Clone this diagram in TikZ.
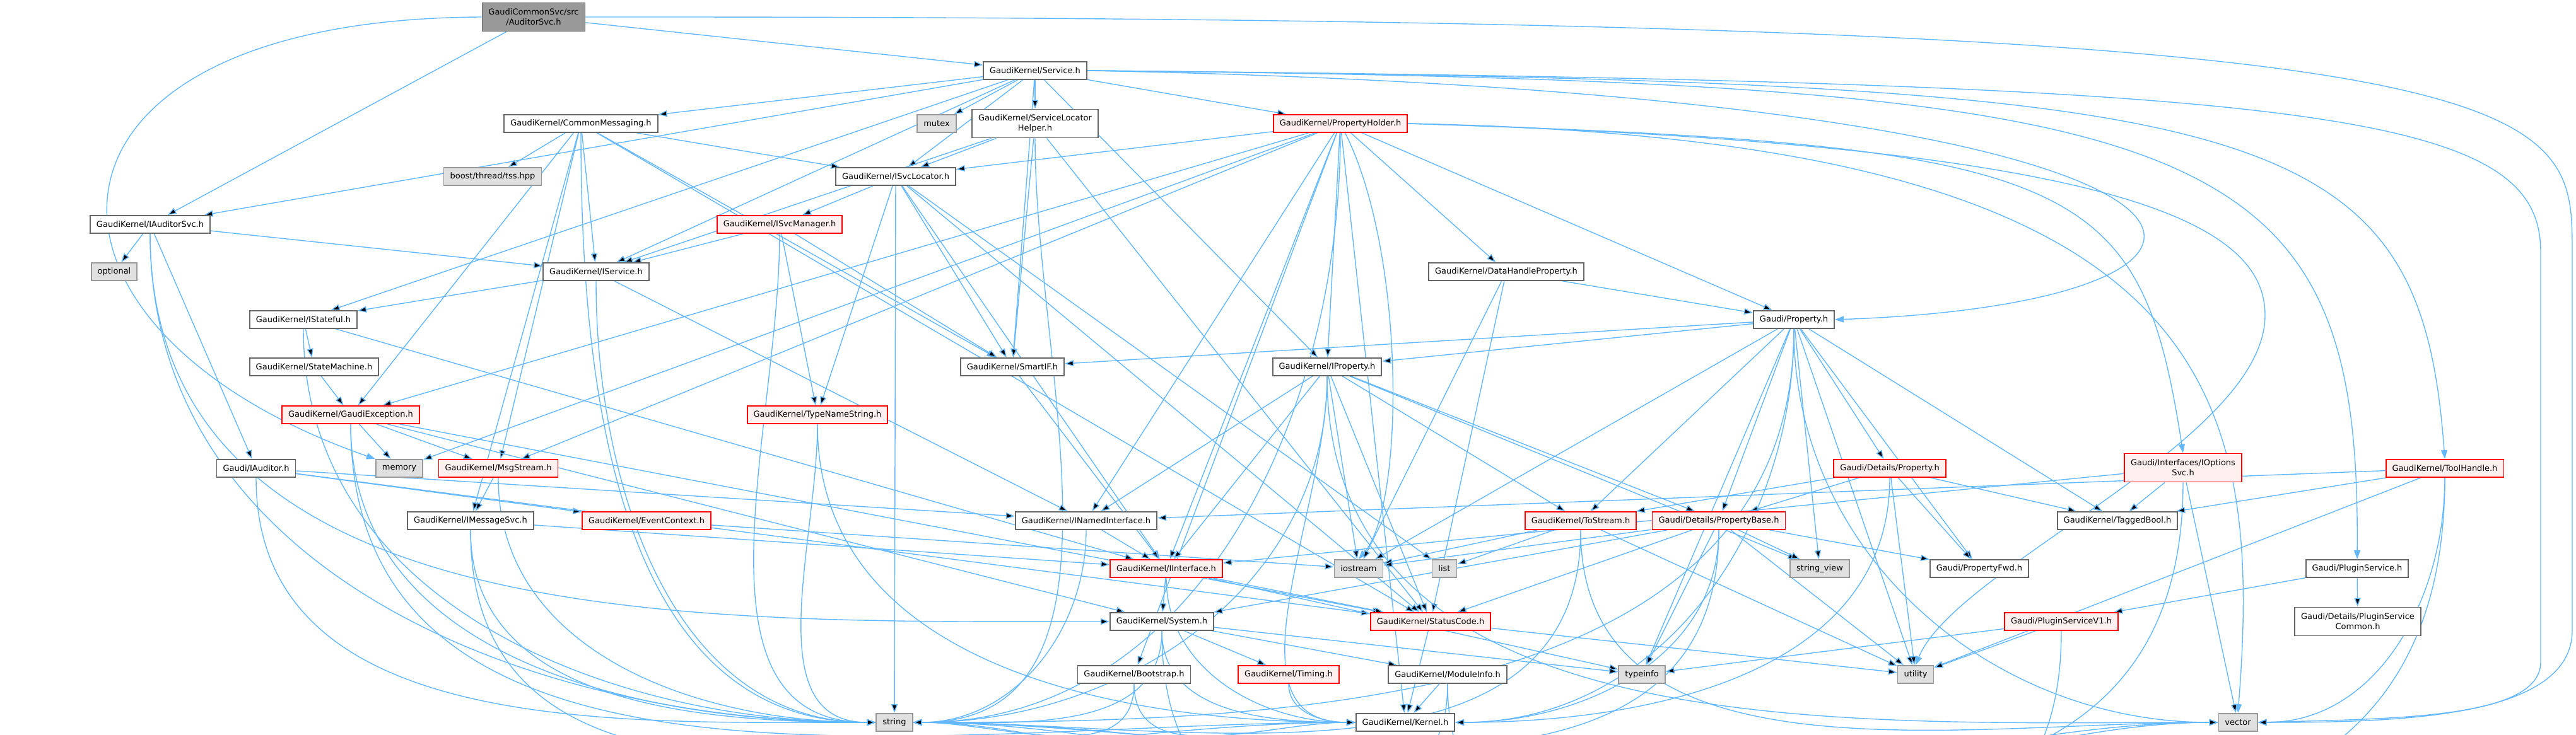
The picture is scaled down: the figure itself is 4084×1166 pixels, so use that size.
\documentclass[tikz,border=0pt]{standalone}
\usepackage{fontspec}
\setmainfont{DejaVu Sans}
\usetikzlibrary{arrows.meta}
\definecolor{incblue}{HTML}{63B8FF}
\definecolor{boxgrey}{HTML}{666666}
\definecolor{sysline}{HTML}{999999}
\definecolor{sysfill}{HTML}{E0E0E0}
\definecolor{redfill}{HTML}{FFF0F0}
\definecolor{rootfill}{HTML}{999999}
\pgfdeclarelayer{edges}
\pgfsetlayers{edges,main}
\tikzset{
  incarrow/.style={-{Triangle[length=3.5pt,width=2.5pt]}, draw=incblue, line width=0.35pt},
  filebox/.style={draw=boxgrey, fill=white, line width=0.45pt, minimum height=7pt, inner xsep=2.5pt, inner ysep=0.75pt, align=center},
  redbox/.style={filebox, draw=red},
  redbox/.append style={fill=redfill},
  sysbox/.style={filebox, draw=sysline, fill=sysfill},
  rootbox/.style={filebox, fill=rootfill},
  twoline/.style={minimum height=11.25pt},
  leftin/.style={out=-90, in=180},
  rightin/.style={out=-90, in=0}
}

\begin{document}
\begin{tikzpicture}[x=0.25pt, y=0.25pt, every node/.style={font={\fontsize{3.25}{4}\selectfont}}]
  \useasboundingbox (0,0) rectangle (4084,-1166);
  % rows from top to bottom
  \node[rootbox, twoline] (root) at (846,-27) {GaudiCommonSvc/src\\/AuditorSvc.h};
  \node[filebox] (service) at (1641,-112) {GaudiKernel/Service.h};
  \node[filebox] (commonmsg) at (921,-196) {GaudiKernel/CommonMessaging.h};
  \node[sysbox] (mutex) at (1485,-196) {mutex};
  \node[filebox, twoline] (svclochelper) at (1641,-196) {GaudiKernel/ServiceLocator\\Helper.h};
  \node[redbox] (propholder) at (2125,-196) {GaudiKernel/PropertyHolder.h};
  \node[sysbox] (boosttss) at (781,-280) {boost/thread/tss.hpp};
  \node[filebox] (isvclocator) at (1420,-280) {GaudiKernel/ISvcLocator.h};
  \node[filebox] (iauditorsvc) at (238,-356) {GaudiKernel/IAuditorSvc.h};
  \node[redbox] (isvcmanager) at (1236,-356) {GaudiKernel/ISvcManager.h};
  \node[sysbox] (optional) at (181,-431) {optional};
  \node[filebox] (iservice) at (945,-431) {GaudiKernel/IService.h};
  \node[filebox] (datahandleprop) at (2388,-431) {GaudiKernel/DataHandleProperty.h};
  \node[filebox] (istateful) at (481,-507) {GaudiKernel/IStateful.h};
  \node[filebox] (property) at (2844,-507) {Gaudi/Property.h};
  \node[filebox] (statemachine) at (498,-582) {GaudiKernel/StateMachine.h};
  \node[filebox] (smartif) at (1605,-582) {GaudiKernel/SmartIF.h};
  \node[filebox] (iproperty) at (2104,-582) {GaudiKernel/IProperty.h};
  \node[redbox] (gaudiexc) at (556,-658) {GaudiKernel/GaudiException.h};
  \node[redbox] (typenamestr) at (1296,-658) {GaudiKernel/TypeNameString.h};
  \node[filebox] (iauditor) at (406,-743) {Gaudi/IAuditor.h};
  \node[sysbox] (memory) at (633,-743) {memory};
  \node[redbox] (msgstream) at (790,-743) {GaudiKernel/MsgStream.h};
  \node[redbox] (detprop) at (2996,-743) {Gaudi/Details/Property.h};
  \node[redbox, twoline] (ioptionssvc) at (3461,-742) {Gaudi/Interfaces/IOptions\\Svc.h};
  \node[redbox] (toolhandle) at (3876,-743) {GaudiKernel/ToolHandle.h};
  \node[filebox] (imessagesvc) at (746,-826) {GaudiKernel/IMessageSvc.h};
  \node[redbox] (eventctx) at (1025,-826) {GaudiKernel/EventContext.h};
  \node[filebox] (inamedif) at (1722,-826) {GaudiKernel/INamedInterface.h};
  \node[redbox] (tostream) at (2506,-826) {GaudiKernel/ToStream.h};
  \node[redbox] (propbase) at (2725,-826) {Gaudi/Details/PropertyBase.h};
  \node[filebox] (taggedbool) at (3357,-826) {GaudiKernel/TaggedBool.h};
  \node[redbox] (iinterface) at (1849,-902) {GaudiKernel/IInterface.h};
  \node[sysbox] (iostream) at (2154,-902) {iostream};
  \node[sysbox] (list) at (2290,-902) {list};
  \node[sysbox] (stringview) at (2885,-902) {string\_view};
  \node[filebox] (propfwd) at (3138,-902) {Gaudi/PropertyFwd.h};
  \node[filebox] (pluginsvc) at (3737,-902) {Gaudi/PluginService.h};
  \node[filebox] (system) at (1842,-986) {GaudiKernel/System.h};
  \node[redbox] (statuscode) at (2268,-986) {GaudiKernel/StatusCode.h};
  \node[redbox] (pluginv1) at (3268,-986) {Gaudi/PluginServiceV1.h};
  \node[filebox, twoline] (plugincommon) at (3738,-986) {Gaudi/Details/PluginService\\Common.h};
  \node[filebox] (bootstrap) at (1798,-1070) {GaudiKernel/Bootstrap.h};
  \node[redbox] (timing) at (2043,-1070) {GaudiKernel/Timing.h};
  \node[filebox] (moduleinfo) at (2295,-1070) {GaudiKernel/ModuleInfo.h};
  \node[sysbox] (typeinfo) at (2603,-1070) {typeinfo};
  \node[sysbox] (utility) at (3037,-1070) {utility};
  \node[sysbox] (string) at (1418,-1146) {string};
  \node[filebox] (kernel) at (2228,-1146) {GaudiKernel/Kernel.h};
  \node[sysbox] (vector) at (3548,-1146) {vector};

  \begin{pgfonlayer}{edges}
  % long routes round the outside
  \draw[incarrow] (root.west) .. controls (10,-30) and (0,-520) .. (memory.north west);
  \draw[incarrow] (root.east) .. controls (4075,-25) and (4078,-150) .. (4078,-400) -- (4078,-1000) .. controls (4078,-1140) and (3800,-1146) .. (vector.east);
  \draw[incarrow] (service.east) .. controls (3700,-130) and (4028,-180) .. (4028,-400) -- (4028,-1050) .. controls (4028,-1140) and (3800,-1140) .. (vector.east);
  \draw[incarrow] (service.east) .. controls (3600,-130) and (3836,-180) .. (toolhandle.north);
  \draw[incarrow] (service.east) .. controls (3500,-130) and (3743,-200) .. (pluginsvc.north);
  \draw[incarrow] (service.east) .. controls (3690,-150) and (3690,-480) .. (property.east);
  \draw[incarrow] (propholder.east) .. controls (3300,-230) and (3393,-280) .. (ioptionssvc.north);
  \draw[incarrow] (propholder.east) .. controls (3500,-220) and (3590,-600) .. (vector.north);
  \draw[incarrow] (propholder.east) .. controls (3350,-230) and (3591,-350) .. (3591,-500) .. controls (3591,-700) and (3100,-900) .. (utility.north);
  \draw[incarrow] (propholder) .. controls (2228,-400) and (2228,-800) .. (iostream.north);

  \path[incarrow] (root) edge (iauditorsvc) edge (service);
  \path[incarrow] (service) edge (commonmsg) edge (iauditorsvc) edge (iservice) edge (istateful)
    edge (isvclocator) edge (svclochelper) edge (mutex) edge (smartif) edge (propholder) edge (iproperty);
  \path[incarrow] (commonmsg) edge (boosttss) edge (iservice) edge (isvclocator) edge (smartif)
    edge (gaudiexc) edge (msgstream) edge (imessagesvc) edge (statuscode) edge[leftin] (string);
  \path[incarrow] (svclochelper) edge (isvclocator) edge (iservice) edge (smartif) edge (statuscode)
    edge[rightin] (string);
  \path[incarrow] (propholder) edge (isvclocator) edge (iproperty) edge (datahandleprop) edge (property)
    edge (gaudiexc) edge (msgstream) edge (iinterface) edge (inamedif) edge (bootstrap) edge (memory)
    edge (kernel) edge[rightin] (string);
  \path[incarrow] (isvclocator) edge (isvcmanager) edge (smartif) edge (iinterface) edge (typenamestr)
    edge (list) edge (statuscode) edge (string);
  \path[incarrow] (iauditorsvc) edge (iservice) edge (iauditor) edge (optional)
    edge[leftin] (string) edge[leftin] (system);
  \path[incarrow] (isvcmanager) edge (iservice) edge (smartif) edge (typenamestr) edge[leftin] (string);
  \path[incarrow] (iservice) edge (istateful) edge (inamedif) edge[leftin] (string);
  \path[incarrow] (datahandleprop) edge (property) edge (statuscode) edge (iostream);
  \path[incarrow] (istateful) edge (statemachine) edge (iinterface) edge[leftin] (string);
  \path[incarrow] (property) edge (smartif) edge (iproperty) edge (tostream) edge (propbase)
    edge (stringview) edge (detprop) edge (propfwd) edge (taggedbool) edge (utility) edge (iostream)
    edge (typeinfo) edge[rightin] (kernel) edge[rightin] (string) edge[leftin] (vector);
  \path[incarrow] (statemachine) edge (gaudiexc);
  \path[incarrow] (smartif) edge (iinterface);
  \path[incarrow] (iproperty) edge (iinterface) edge (inamedif) edge (tostream) edge (propbase)
    edge (stringview) edge (iostream) edge (statuscode) edge[leftin] (kernel) edge[rightin] (string)
    edge[leftin] (vector);
  \path[incarrow] (gaudiexc) edge (memory) edge (msgstream) edge (statuscode) edge (system)
    edge[leftin] (kernel) edge[leftin] (string);
  \path[incarrow] (typenamestr) edge[leftin] (string) edge[leftin] (kernel);
  \path[incarrow] (iauditor) edge (eventctx) edge (inamedif) edge (statuscode) edge[leftin] (string);
  \path[incarrow] (msgstream) edge (imessagesvc) edge[leftin] (string);
  \path[incarrow] (detprop) edge (tostream) edge (propbase) edge (propfwd) edge (taggedbool)
    edge (utility) edge[rightin] (kernel);
  \path[incarrow] (ioptionssvc) edge (taggedbool) edge (iinterface) edge[rightin] (string) edge (vector);
  \path[incarrow] (toolhandle) edge (inamedif) edge (taggedbool) edge (utility)
    edge[rightin] (string) edge[rightin] (vector);
  \path[incarrow] (imessagesvc) edge (iinterface) edge[leftin] (string) edge[leftin] (kernel);
  \path[incarrow] (eventctx) edge (iostream);
  \path[incarrow] (inamedif) edge (iinterface) edge[rightin] (string);
  \path[incarrow] (tostream) edge (iostream) edge (list) edge (utility) edge[rightin] (string)
    edge[leftin] (vector);
  \path[incarrow] (propbase) edge (iostream) edge (statuscode) edge (typeinfo) edge (utility)
    edge (stringview) edge (propfwd) edge (system) edge[rightin] (kernel) edge[rightin] (string);
  \path[incarrow] (iinterface) edge (system) edge (statuscode) edge (typeinfo) edge[leftin] (kernel);
  \path[incarrow] (pluginsvc) edge (pluginv1) edge (plugincommon);
  \path[incarrow] (system) edge (timing) edge (moduleinfo) edge (typeinfo) edge[rightin] (string)
    edge[leftin] (kernel) edge[leftin] (vector);
  \path[incarrow] (statuscode) edge (utility) edge (kernel);
  \path[incarrow] (pluginv1) edge (typeinfo) edge (utility) edge[rightin] (string);
  \path[incarrow] (bootstrap) edge[rightin] (string) edge[leftin] (kernel);
  \path[incarrow] (timing) edge[leftin] (kernel);
  \path[incarrow] (moduleinfo) edge[rightin] (string) edge (kernel) edge[leftin] (vector);
  \end{pgfonlayer}
\end{tikzpicture}
\end{document}
